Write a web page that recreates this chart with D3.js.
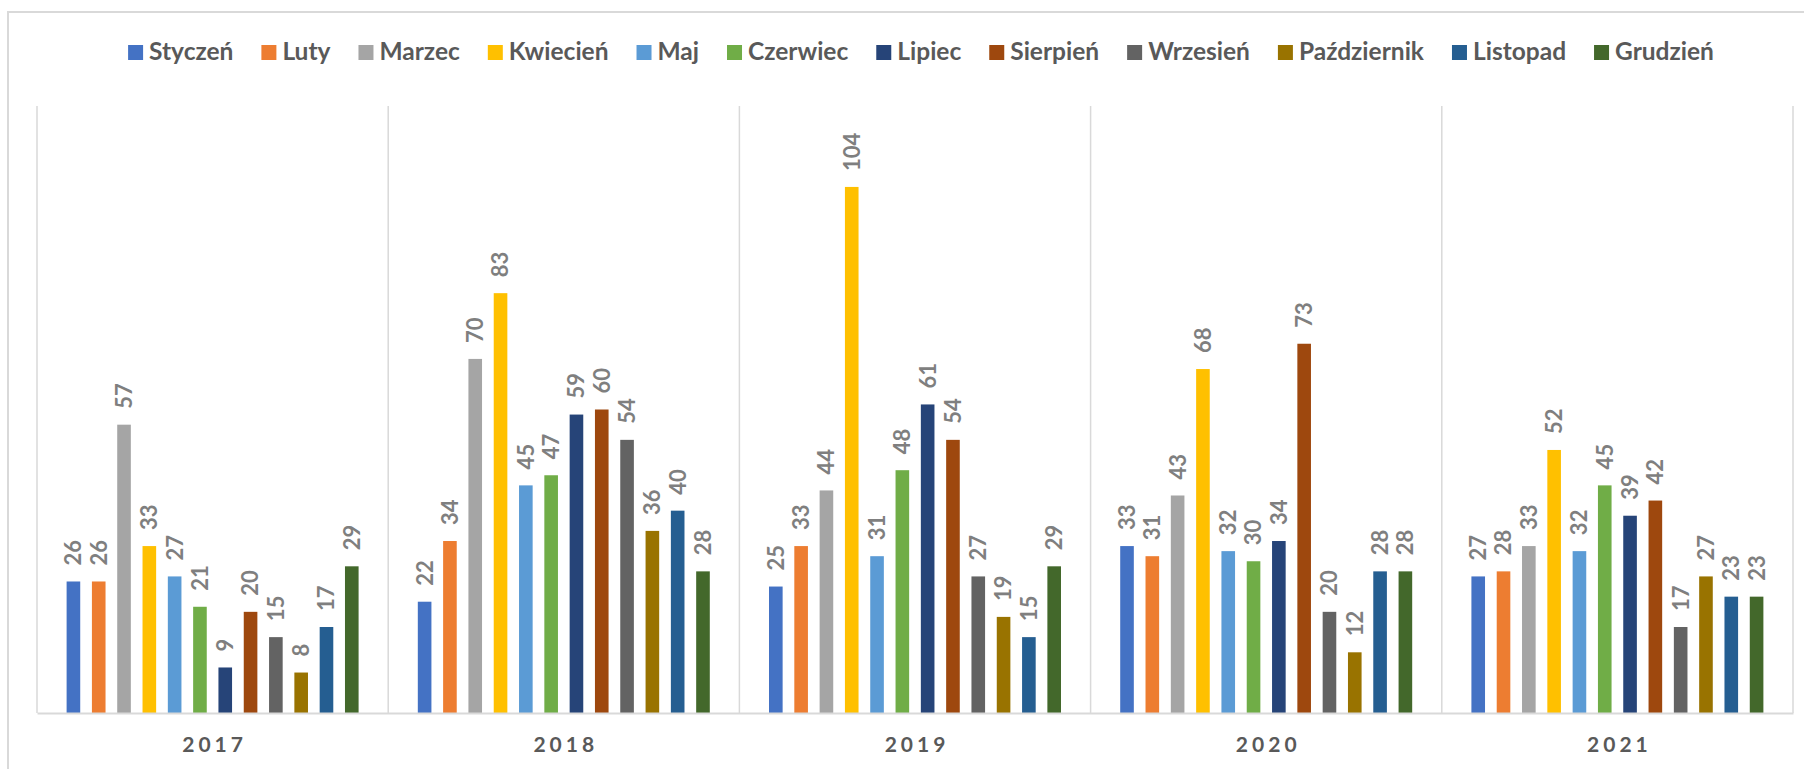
<!DOCTYPE html>
<html>
<head>
<meta charset="utf-8">
<script src="https://cdn.jsdelivr.net/npm/d3@7"></script>
<style>
  html, body { margin: 0; padding: 0; background: #fff; }
  svg { display: block; }
  text { font-family: Lato, "Open Sans", sans-serif; font-weight: bold; }
</style>
</head>
<body>
<div id="chart"></div>
<script>
let years = ["2017", "2018", "2019", "2020", "2021"];
let months = ["Styczeń", "Luty", "Marzec", "Kwiecień", "Maj", "Czerwiec", "Lipiec",
              "Sierpień", "Wrzesień", "Październik", "Listopad", "Grudzień"];
let colors = ["#4472C4", "#ED7D31", "#A5A5A5", "#FFC000", "#5B9BD5", "#70AD47", "#264478",
              "#9E480E", "#636363", "#997300", "#255E91", "#43682B"];

// one row per year, one value per month
let v2017 = [26, 26, 57, 33, 27, 21, 9, 20, 15, 8, 17, 29];
let v2018 = [22, 34, 70, 83, 45, 47, 59, 60, 54, 36, 40, 28];
let v2019 = [25, 33, 44, 104, 31, 48, 61, 54, 27, 19, 15, 29];
let v2020 = [33, 31, 43, 68, 32, 30, 34, 73, 20, 12, 28, 28];
let v2021 = [27, 28, 33, 52, 32, 45, 39, 42, 17, 27, 23, 23];
let values = [v2017, v2018, v2019, v2020, v2021];

let W = 1804, H = 769;
let plot = { left: 37, right: 1793, top: 106, bottom: 713 };

let svg = d3.select("#chart")
            .append("svg")
            .attr("width", W)
            .attr("height", H);

// chart frame
svg.append("rect")
    .attr("x", 8).attr("y", 12)
    .attr("width", W + 20).attr("height", H + 20)
    .style("fill", "none")
    .style("stroke", "#d9d9d9")
    .style("stroke-width", 2);

let x0 = d3.scaleBand()
           .domain(years)
           .range([plot.left, plot.right]);

let x1 = d3.scaleBand()
           .domain(months)
           .range([0, x0.bandwidth()])
           .paddingInner(0.462)
           .paddingOuter(1.17);

let y = d3.scaleLinear()
          .domain([0, 120])
          .range([plot.bottom, plot.top]);

let color = d3.scaleOrdinal().domain(months).range(colors);

// vertical category separators
let seps = years.map(d => x0(d)).concat([plot.right]);
svg.append("g")
    .selectAll("line")
    .data(seps)
    .enter()
    .append("line")
    .attr("x1", d => d).attr("x2", d => d)
    .attr("y1", plot.top).attr("y2", plot.bottom)
    .style("stroke", "#d9d9d9")
    .style("stroke-width", 1.5);

let groups = svg.append("g")
                .selectAll("g")
                .data(years)
                .enter()
                .append("g")
                .attr("transform", d => "translate(" + x0(d) + ",0)");

let cells = groups.selectAll("g")
                  .data((d, i) => months.map((m, j) => ({ month: m, value: values[i][j] })))
                  .enter()
                  .append("g");

cells.append("rect")
    .attr("x", d => x1(d.month))
    .attr("y", d => y(d.value))
    .attr("width", x1.bandwidth())
    .attr("height", d => y(0) - y(d.value))
    .style("fill", d => color(d.month));

cells.append("text")
    .attr("transform", d => "translate(" + (x1(d.month) + x1.bandwidth() / 2) + "," + (y(d.value) - 16) + ") rotate(-90)")
    .attr("dy", "0.36em")
    .style("font-size", "22px")
    .style("fill", "#7f7f7f")
    .text(d => d.value);

// axis line
let xAxis = svg.append("g")
               .attr("transform", "translate(0," + plot.bottom + ")")
               .call(d3.axisBottom(x0).tickSize(0).tickPadding(24));
xAxis.select(".domain")
    .style("stroke", "#d9d9d9")
    .style("stroke-width", 2);
xAxis.selectAll("text")
    .style("font-family", "Lato, sans-serif")
    .style("font-weight", "bold")
    .style("font-size", "21px")
    .style("letter-spacing", "4px")
    .style("fill", "#595959")
    .attr("dx", "2px");

// legend
let legend = svg.append("g");
let items = legend.selectAll("g")
                  .data(months)
                  .enter()
                  .append("g");
items.append("rect")
    .attr("y", 45)
    .attr("width", 15)
    .attr("height", 15)
    .style("fill", d => color(d));
items.append("text")
    .attr("x", 21)
    .attr("y", 60)
    .style("font-size", "24.5px")
    .style("fill", "#595959")
    .text(d => d);

let offsets = [];
let pos = 0;
items.each(function(d) {
    offsets.push(pos);
    let tw = d3.select(this).select("text").node().getComputedTextLength();
    pos += 21 + tw + 28;
});
let total = pos - 28;
let start = 921 - total / 2;
items.attr("transform", (d, i) => "translate(" + (start + offsets[i]) + ",0)");
</script>
</body>
</html>
